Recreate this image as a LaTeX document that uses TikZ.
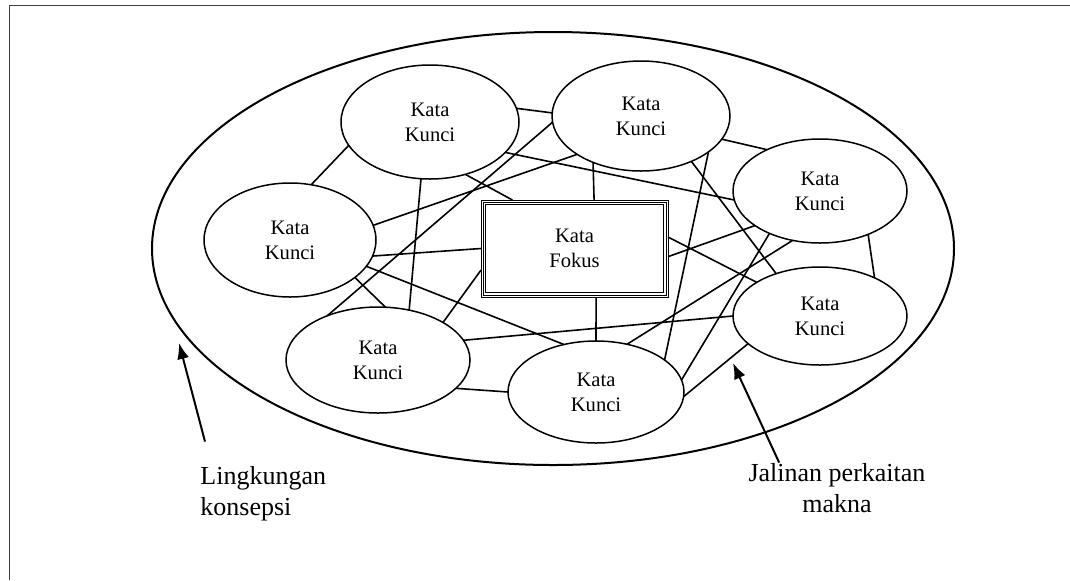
\documentclass[tikz,border=0pt]{standalone}
\usepackage{fontspec}
\setmainfont{Liberation Serif}
\usetikzlibrary{arrows.meta,shapes.geometric}
\tikzset{%
	kunci/.style   = {draw, ellipse, line width=0.75pt, inner sep=0pt, outer sep=0pt, align=center, font=\fontsize{10.3}{12.5}\selectfont},
	fokus/.style   = {draw, rectangle, line width=0.5pt, inner sep=0pt, outer sep=0pt, minimum width=93.5pt, minimum height=48.5pt, align=center, font=\fontsize{10.3}{12.5}\selectfont},
	ket/.style     = {inner sep=0pt, font=\fontsize{13}{15.5}\selectfont},
	link/.style    = {line width=0.8pt},
	pointer/.style = {line width=1pt, -{Latex[length=8pt,width=6pt]}},
}

\begin{document}
\begin{tikzpicture}[x=0.5pt,y=-0.5pt]
	\useasboundingbox (0,0) rectangle (1070,580);
	\draw[black!75, line width=0.6pt] (9.5,580) -- (9.5,5.5) -- (1070,5.5);
	\node[draw, ellipse, line width=1pt, inner sep=0pt, outer sep=0pt, minimum width=401pt, minimum height=216.5pt] (lingkungan) at (553,248.5) {};
	
	\node[kunci, minimum width=89pt, minimum height=57pt] (kunci1) at (430,122) {Kata\\Kunci};
	\node[kunci, minimum width=89pt, minimum height=55pt] (kunci2) at (641,116) {Kata\\Kunci};
	\node[kunci, minimum width=87pt, minimum height=52pt] (kunci3) at (820,191) {Kata\\Kunci};
	\node[kunci, minimum width=86pt, minimum height=57pt] (kunci4) at (290,240) {Kata\\Kunci};
	\node[kunci, minimum width=92pt, minimum height=53pt] (kunci5) at (378,360) {Kata\\Kunci};
	\node[kunci, minimum width=88pt, minimum height=51pt] (kunci6) at (596,392) {Kata\\Kunci};
	\node[kunci, minimum width=87pt, minimum height=49pt] (kunci7) at (820,316) {Kata\\Kunci};
	\node[fokus] (fokus) at (574.5,248.5) {Kata\\Fokus};
	\draw[line width=0.5pt] ([shift={(1pt,-1pt)}]fokus.north west) rectangle ([shift={(-1pt,1pt)}]fokus.south east);
	\draw[line width=0.5pt] ([shift={(2.3pt,-2.3pt)}]fokus.north west) rectangle ([shift={(-2.3pt,2.3pt)}]fokus.south east);
	
	\draw[link] (kunci1.9) -- (kunci2.178);
	\draw[link] (kunci1.196) -- (kunci4.69);
	\draw[link] (kunci1.304) -- (fokus.142);
	\draw[link] (kunci1.261) -- (kunci5.58);
	\draw[link] (kunci1.338) -- (kunci3.186);
	\draw[link] (kunci2.184) -- (kunci5.139);
	\draw[link] (kunci2.211) -- (kunci4.10);
	\draw[link] (kunci2.224) -- (fokus.68);
	\draw[link] (kunci2.344) -- (kunci3.142);
	\draw[link] (kunci2.332) -- (kunci6.25);
	\draw[link] (kunci2.318) -- (kunci7.136);
	\draw[link] (kunci4.349) -- (fokus.180);
	\draw[link] (kunci4.341) -- (kunci6.124);
	\draw[link] (kunci4.330) -- (kunci5.82);
	\draw[link] (fokus.193) -- (kunci5.30);
	\draw[link] (kunci5.13) -- (kunci7.180);
	\draw[link] (fokus.294) -- (kunci6.90);
	\draw[link] (kunci3.241) -- (kunci6.57);
	\draw[link] (kunci3.220) -- (kunci6.8);
	\draw[link] (fokus.7) -- (kunci7.152);
	\draw[link] (fokus.355) -- (kunci3.208);
	\draw[link] (kunci6.357) -- (kunci7.201);
	\draw[link] (kunci3.318) -- (kunci7.35);
	\draw[link] (kunci5.340) -- (kunci6.180);
	
	\node[ket, anchor=base west, align=left] (ketL) at (200,515) {Lingkungan\\konsepsi};
	\node[ket, anchor=base, align=center] (ketR) at (837,512) {Jalinan perkaitan\\makna};
	\coordinate (tipL) at (179,343);
	\coordinate (tipR) at (733,363);
	\draw[pointer] ([shift={(2.5pt,12pt)}]ketL.north west) -- (tipL);
	\draw[pointer] ([xshift=15.5pt]ketR.north west) -- (tipR);
\end{tikzpicture}
\end{document}
